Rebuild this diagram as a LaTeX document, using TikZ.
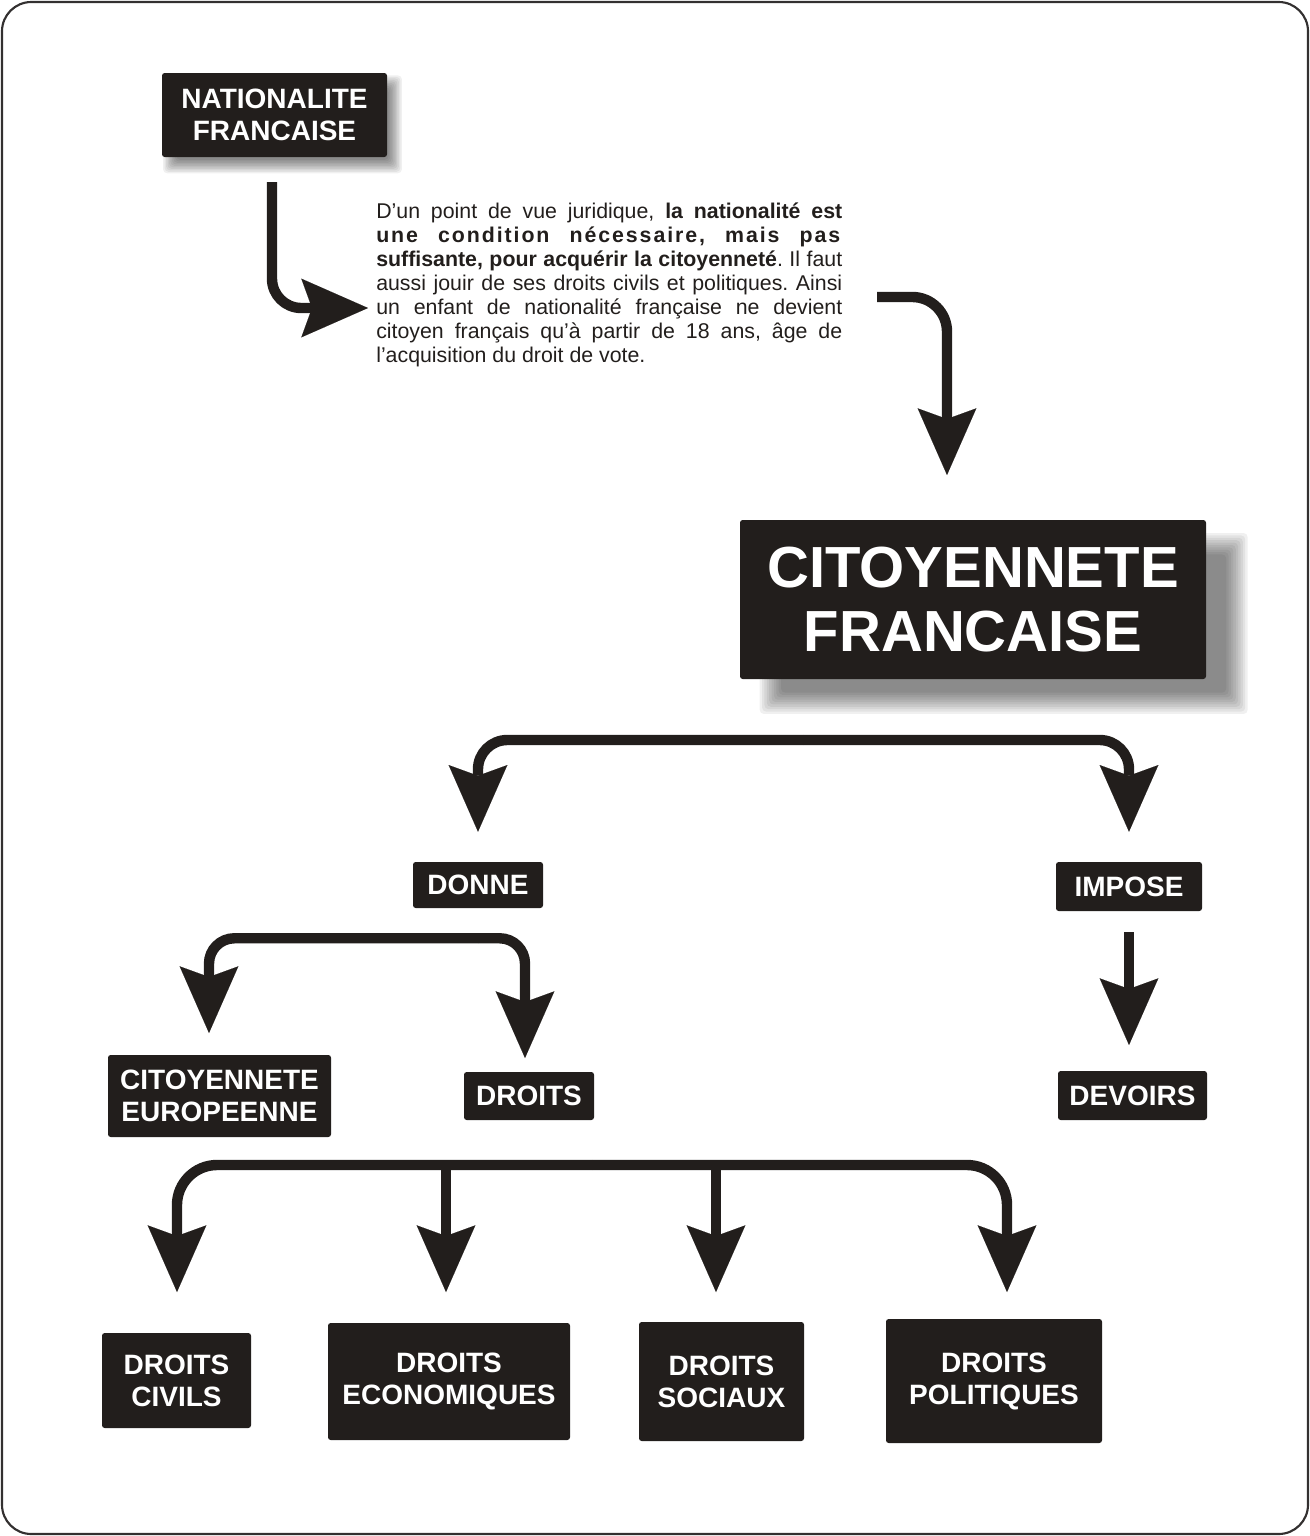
\documentclass[tikz,border=0pt]{standalone}
\usepackage{fontspec}
\setmainfont{Liberation Sans}
\usetikzlibrary{arrows.meta,backgrounds}
\definecolor{ink}{HTML}{221E1C}
\definecolor{framec}{HTML}{333030}
\frenchspacing
\newcommand\softshadow[4]{%
  \begin{pgfonlayer}{background}
  \foreach \k in {0,...,9}{%
    \pgfmathsetmacro\shee{#4-\k*#4*2/9}%
    \pgfmathsetmacro\shxa{#2-\shee}\pgfmathsetmacro\shxb{#2+\shee}%
    \pgfmathsetmacro\shya{#3-\shee}\pgfmathsetmacro\shyb{#3+\shee}%
    \fill[black, fill opacity=0.06, rounded corners=3pt]
      ([xshift=\shxa pt, yshift=\shya pt]#1.south west) rectangle ([xshift=\shxb pt, yshift=\shyb pt]#1.north east);
  }
  \end{pgfonlayer}}
\begin{document}
\begin{tikzpicture}[x=0.75pt,y=-0.75pt,
  box/.style={fill=ink, text=white, rounded corners=2pt, inner sep=0pt, align=center,
    font=\bfseries\fontsize{21}{24}\selectfont},
  arr/.style={draw=ink, line width=7.8pt,
    -{Stealth[length=50pt,width=44pt,inset=8pt,line width=0.01pt]}},
  framebox/.style={draw=framec, line width=1.6pt, rounded corners=22pt}]
\useasboundingbox (0,0) rectangle (1310,1536);
\draw[framebox] (2,2) rectangle (1308,1534);

% boxes
\node[box, minimum width=168.75pt, minimum height=63pt] (nat) at (274.5,115) {NATIONALITE\\FRANCAISE};
\node[box, font=\bfseries\fontsize{43.5}{48}\selectfont, minimum width=349.5pt, minimum height=119.25pt] (cit) at (973,599.5) {CITOYENNETE\\FRANCAISE};
\node[box, minimum width=97.5pt, minimum height=34.5pt] (donne) at (478,885) {DONNE};
\node[box, minimum width=109.5pt, minimum height=36.75pt] (impose) at (1129,886.5) {IMPOSE};
\node[box, minimum width=167.25pt, minimum height=61.5pt] (eur) at (219.5,1096) {CITOYENNETE\\EUROPEENNE};
\node[box, minimum width=97.5pt, minimum height=36pt] (droits) at (529,1096) {DROITS};
\node[box, minimum width=111.75pt, minimum height=36.75pt] (devoirs) at (1132.5,1095.5) {DEVOIRS};
\node[box, minimum width=111.75pt, minimum height=71.25pt] (civ) at (176.5,1380.5) {DROITS\\CIVILS};
\node[box, minimum width=181.5pt, minimum height=87.75pt] (eco) at (449,1381.5) {DROITS\\ECONOMIQUES};
\node[box, minimum width=123.75pt, minimum height=89.25pt] (soc) at (721.5,1381.5) {DROITS\\SOCIAUX};
\node[box, minimum width=162pt, minimum height=93pt] (pol) at (994,1381) {DROITS\\POLITIQUES};

\softshadow{nat}{6}{-7}{5}
\softshadow{cit}{23}{-18}{8}

% paragraph
\node[anchor=north west, inner sep=0pt, text width=349.5pt, align=justify, text=ink,
  font=\fontsize{16}{18}\selectfont\frenchspacing] (txt) at (376,203)
 {D’un point de vue juridique, \textbf{la nationalité est}\linebreak
  \textbf{\addfontfeature{LetterSpace=9}une condition nécessaire, mais pas}\linebreak
  \textbf{suffisante, pour acquérir la citoyenneté}. Il faut\linebreak
  aussi jouir de ses droits civils et politiques. Ainsi\linebreak
  un enfant de nationalité française ne devient\linebreak
  citoyen français qu’à partir de 18 ans, âge de\linebreak
  l’acquisition du droit de vote.};

% connectors
\coordinate (a1s) at (272,182);
\coordinate (a1e) at (368,308);
\draw[arr, rounded corners=22pt] (a1s) |- (a1e);

\coordinate (a2s) at (877,297);
\coordinate (a2e) at (947,475);
\draw[arr, rounded corners=26pt] (a2s) -| (a2e);

\coordinate (b1) at (803,740);
\draw[arr, rounded corners=22pt] (b1) -| ([yshift=22.5pt]donne.north);
\draw[arr, rounded corners=22pt] (b1) -| ([yshift=22.5pt]impose.north);

\coordinate (b2) at ([yshift=-22.5pt]donne.south);
\coordinate (t21) at (209,1033);
\coordinate (t22) at (525,1058);
\draw[arr, rounded corners=19pt] (b2) -| (t21);
\draw[arr, rounded corners=19pt] (b2) -| (t22);

\coordinate (t3) at (1129,1045);
\draw[arr] ([yshift=-15.75pt]impose.south) -- (t3);

\coordinate (b3) at (592,1165);
\coordinate (t41) at (177,1292);
\coordinate (t42) at (446,1292);
\coordinate (t43) at (716,1292);
\coordinate (t44) at (1007,1292);
\draw[arr, rounded corners=30pt] (b3) -| (t41);
\draw[arr, rounded corners=30pt] (b3) -| (t44);
\draw[arr] (b3 -| t42) -- (t42);
\draw[arr] (b3 -| t43) -- (t43);
\end{tikzpicture}
\end{document}
